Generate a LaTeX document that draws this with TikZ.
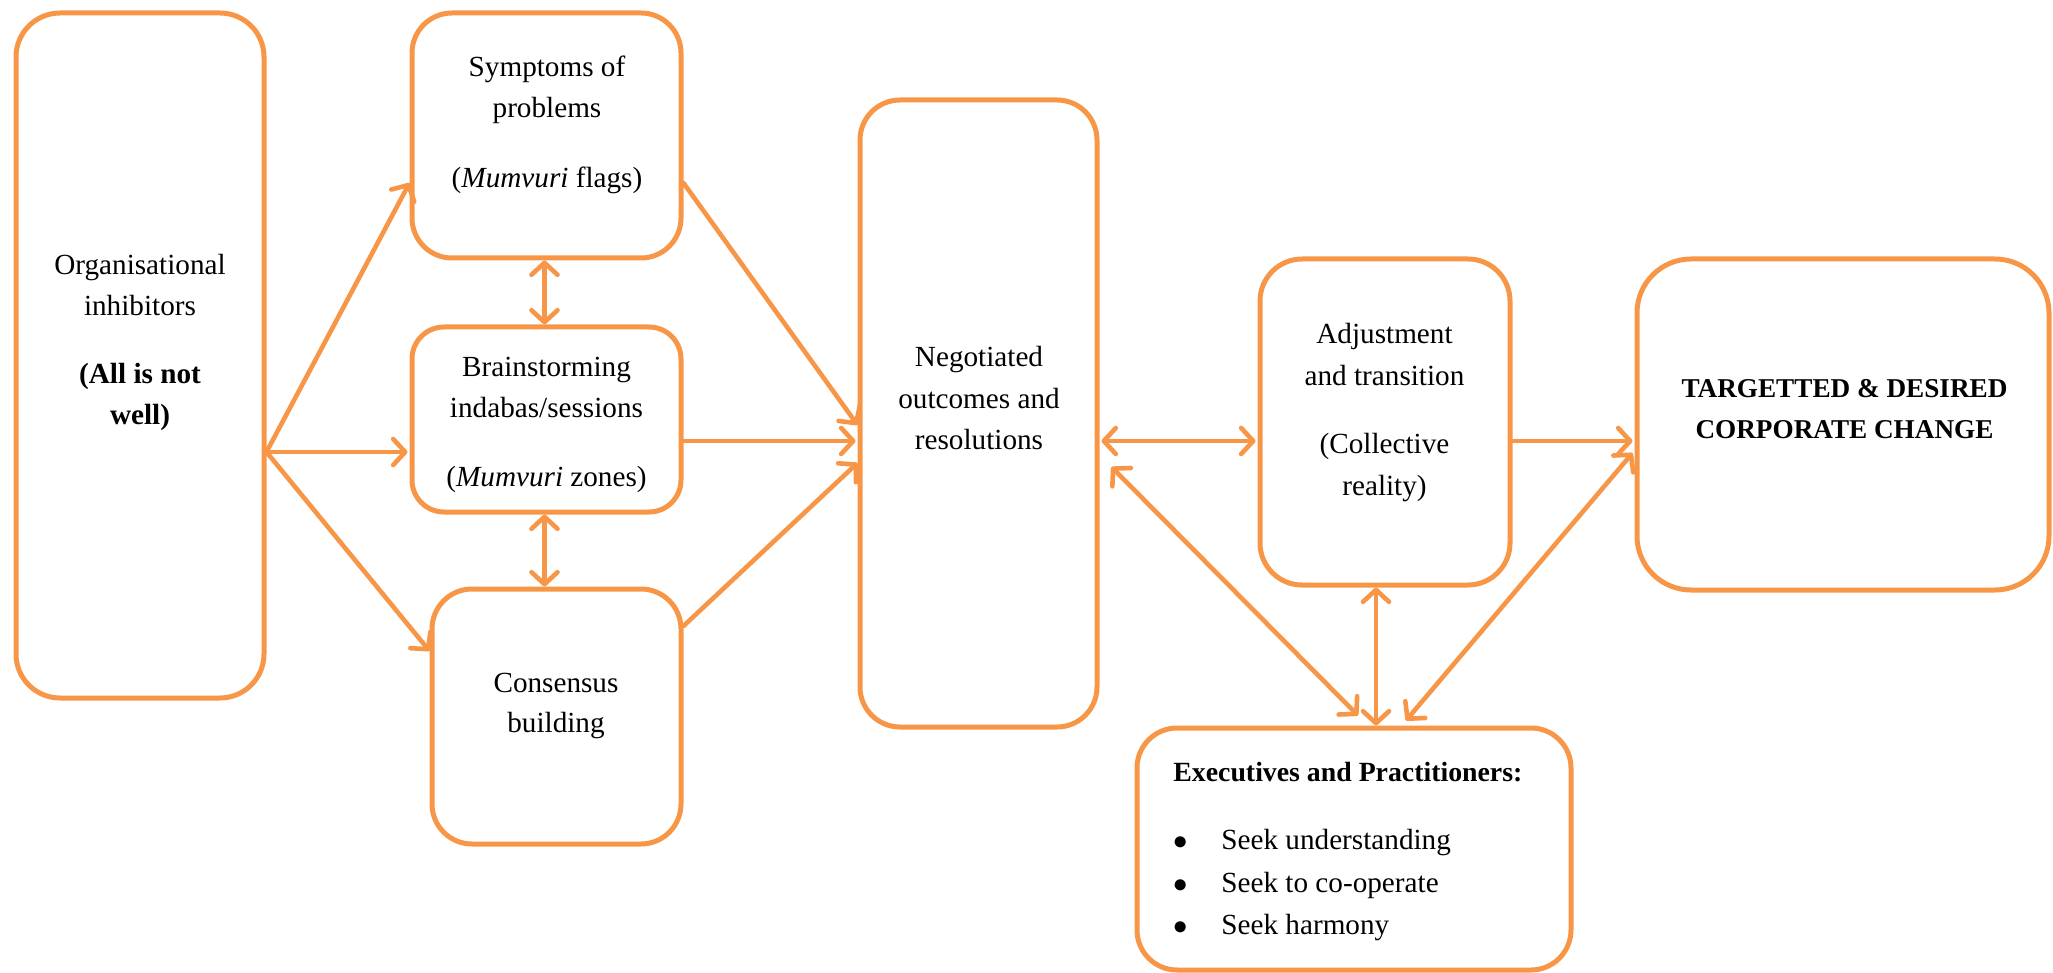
\documentclass[tikz,border=0pt]{standalone}
\usepackage{fontspec}
\setmainfont{Liberation Serif}
\usetikzlibrary{arrows.meta,calc}
\definecolor{accent}{HTML}{F79646}
\begin{document}
\begin{tikzpicture}[x=0.5pt,y=-0.5pt,
  box/.style={draw=accent, line width=2.5pt, rounded corners=#1, inner sep=0pt},
  box/.default=20pt,
  txt/.style={align=center, inner sep=0pt, font=\fontsize{14.6}{20.75}\selectfont},
  link/.style={draw=accent, line width=2.3pt, line cap=round},
  tip/.style={link, -{Straight Barb[length=6pt,width=13pt,round]}},
  both/.style={link, {Straight Barb[length=6pt,width=13pt,round]}-{Straight Barb[length=6pt,width=13pt,round]}},
]
\useasboundingbox (0,0) rectangle (2053,973);

% boxes
\node[box=22pt, minimum width=124pt,   minimum height=342.5pt] (A) at (140,355.5) {};
\node[box=20pt, minimum width=134.5pt, minimum height=122.5pt] (B) at (546.5,135.5) {};
\node[box=16pt, minimum width=134.5pt, minimum height=92.5pt]  (C) at (546.5,419.5) {};
\node[box=20pt, minimum width=124.5pt, minimum height=127.5pt] (D) at (556.5,716.5) {};
\node[box=20pt, minimum width=118.5pt, minimum height=313.5pt] (E) at (978.5,413.5) {};
\node[box=21pt, minimum width=125pt,   minimum height=163pt]   (F) at (1385,422) {};
\node[box=27pt, minimum width=206pt,   minimum height=165.5pt] (G) at (1843,424.5) {};
\node[box=20pt, minimum width=217pt,   minimum height=121pt]   (H) at (1354,849) {};

% box texts
\node[txt] (tA) at (140,342.5) {Organisational\\inhibitors\\[13pt]\textbf{(All is not}\\\textbf{well)}};
\node[txt] (tB) at (547,124.7) {Symptoms of\\problems\\[14pt](\textit{Mumvuri} flags)};
\node[txt] (tC) at (546.5,424.5) {Brainstorming\\indabas/sessions\\[13.5pt](\textit{Mumvuri} zones)};
\node[txt] (tD) at (556,706) {Consensus\\[-0.75pt]building};
\node[txt] (tE) at (979,398.4) {Negotiated\\outcomes and\\resolutions};
\node[txt] (tF) at (1384.5,412.7) {Adjustment\\and transition\\[13.5pt](Collective\\reality)};
\node[txt, font=\fontsize{13.6}{20.5}\selectfont\bfseries] (tG) at (1844.5,409.5) {TARGETTED \& DESIRED\\CORPORATE CHANGE};
\node[txt, align=left, anchor=west, font=\fontsize{14.6}{21.25}\selectfont] (tH) at (1173,852)
  {{\fontsize{13.9}{21.25}\selectfont\bfseries Executives and Practitioners:}\\[12.75pt]
  \makebox[24pt][l]{$\bullet$}Seek understanding\\
  \makebox[24pt][l]{$\bullet$}Seek to co-operate\\
  \makebox[24pt][l]{$\bullet$}Seek harmony};

% connectors
\coordinate (split) at ($(A.east)+(0,96.5)$);
\coordinate (bc) at ($(B.south)+(-2,0)$);
\coordinate (cd) at ($(C.south)+(-2,0)$);
\coordinate (fh) at ($(F.south)+(-9,0)$);
\draw[tip] (split) -- ($(B.west)+(0,47.5)$);
\draw[tip] (split) -- ($(C.west)+(-2,32.5)$);
\draw[tip] (split) -- ($(D.west)+(0,-65.5)$);
\draw[both] (bc) -- (bc |- C.north);
\draw[both] (cd) -- (cd |- D.north);
\draw[tip] ($(B.east)+(0,47.5)$) -- ($(E.west)+(0,11.5)$);
\draw[tip] ($(C.east)+(0,21.5)$) -- ($(E.west)+(-2,27.5)$);
\draw[tip] ($(D.east)+(0,-90.5)$) -- ($(E.west)+(0,49.5)$);
\draw[both] ($(E.east)+(2,27.5)$) -- ($(F.west)+(-2,19)$);
\draw[both] ($(E.east)+(12,53.5)$) -- ($(H.north)+(4,-10)$);
\draw[both] (fh) -- (fh |- H.north);
\draw[both] ($(H.north)+(52,-5)$) -- ($(G.west)+(-2,28.5)$);
\draw[tip] ($(F.east)+(0,19)$) -- ($(G.west)+(-2,16.5)$);
\end{tikzpicture}
\end{document}
